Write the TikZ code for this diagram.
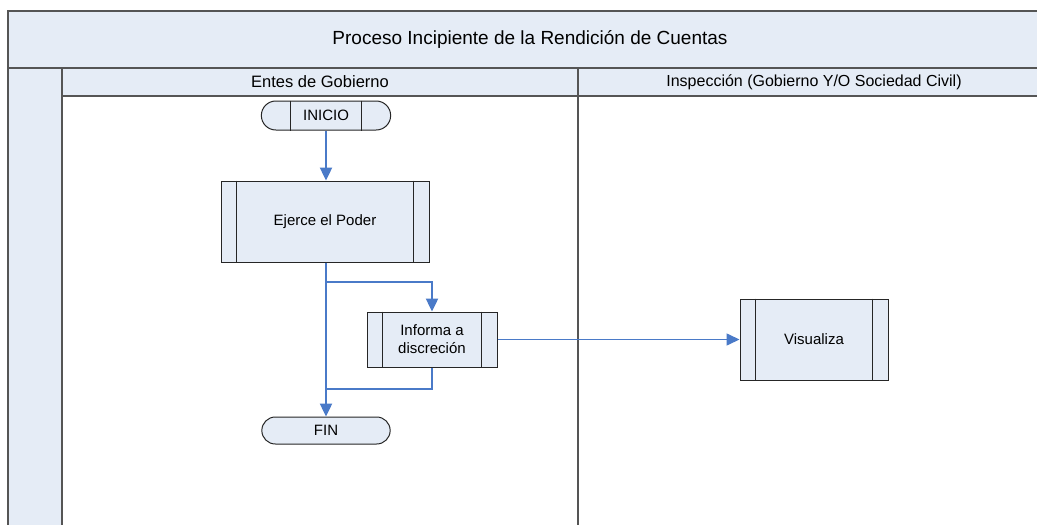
\documentclass[tikz,border=0pt]{standalone}
\usepackage{fontspec}
\setmainfont{Liberation Sans}
\usetikzlibrary{arrows.meta,shapes.misc}
\definecolor{fillb}{HTML}{E5ECF6}
\definecolor{flow}{HTML}{4A7AC8}
\definecolor{frame}{HTML}{555555}
\tikzset{
  lane/.style={draw=frame,line width=1.5pt,fill=fillb},
  procbox/.style={draw=black!85,line width=1pt,fill=fillb,rectangle,align=center,font=\fontsize{15}{18}\selectfont},
  term/.style={draw=black!85,line width=1pt,fill=fillb,rounded rectangle,font=\fontsize{15}{18}\selectfont},
  flowline/.style={draw=flow,line width=2.4pt,-{Triangle[width=12pt,length=13pt]}},
  flowplain/.style={draw=flow,line width=2.4pt}
}
\begin{document}
\begin{tikzpicture}[x=1pt,y=-1pt]
\useasboundingbox (0,0) rectangle (1037,525);
% frame
\fill[white] (0,0) rectangle (1037,525);
\draw[lane] (8,11) rectangle (1040,68);
\draw[lane] (62,68) rectangle (1040,96);
\draw[lane] (8,68) rectangle (62,528);
\draw[draw=frame,line width=1.5pt] (578,68) -- (578,528);
\node[font=\fontsize{19}{22}\selectfont] (title) at (530,39.5) {Proceso Incipiente de la Rendición de Cuentas};
\node[font=\fontsize{16.5}{19}\selectfont] (h1) at (320,82) {Entes de Gobierno};
\node[font=\fontsize{16}{19}\selectfont] (h2) at (814,82) {Inspección (Gobierno Y/O Sociedad Civil)};
% nodes
\node[term,minimum width=136pt,minimum height=29pt] (inicio) at (326,115.5) {INICIO};
\draw[black!85,line width=1pt] ([xshift=15pt]inicio.north west) -- ([xshift=15pt]inicio.south west);
\draw[black!85,line width=1pt] ([xshift=-15pt]inicio.north east) -- ([xshift=-15pt]inicio.south east);
\node[procbox,minimum width=208pt,minimum height=81pt] (ejerce) at (325,221.5) {Ejerce el Poder};
\draw[black!85,line width=1pt] ([xshift=16pt]ejerce.north west) -- ([xshift=16pt]ejerce.south west);
\draw[black!85,line width=1pt] ([xshift=-16pt]ejerce.north east) -- ([xshift=-16pt]ejerce.south east);
\node[procbox,minimum width=130pt,minimum height=55pt] (informa) at (432,339.5) {Informa a\\discreción};
\draw[black!85,line width=1pt] ([xshift=16pt]informa.north west) -- ([xshift=16pt]informa.south west);
\draw[black!85,line width=1pt] ([xshift=-16pt]informa.north east) -- ([xshift=-16pt]informa.south east);
\node[procbox,minimum width=148pt,minimum height=81pt] (visualiza) at (814,339.5) {Visualiza};
\draw[black!85,line width=1pt] ([xshift=16pt]visualiza.north west) -- ([xshift=16pt]visualiza.south west);
\draw[black!85,line width=1pt] ([xshift=-16pt]visualiza.north east) -- ([xshift=-16pt]visualiza.south east);
\node[term,minimum width=135pt,minimum height=27pt] (fin) at (326,430.5) {FIN};
% connectors
\coordinate (split) at (326,282);
\coordinate (join) at (326,389);
\draw[flowline] (inicio.south) -- (inicio.south |- ejerce.north);
\draw[flowline] (ejerce.south -| inicio.south) -- (fin.north);
\draw[flowline] (split) -| (informa.north);
\draw[flowplain] (informa.south) |- (join);
\draw[flowline,line width=1.6pt] (informa.east) -- (visualiza.west);
\end{tikzpicture}
\end{document}
